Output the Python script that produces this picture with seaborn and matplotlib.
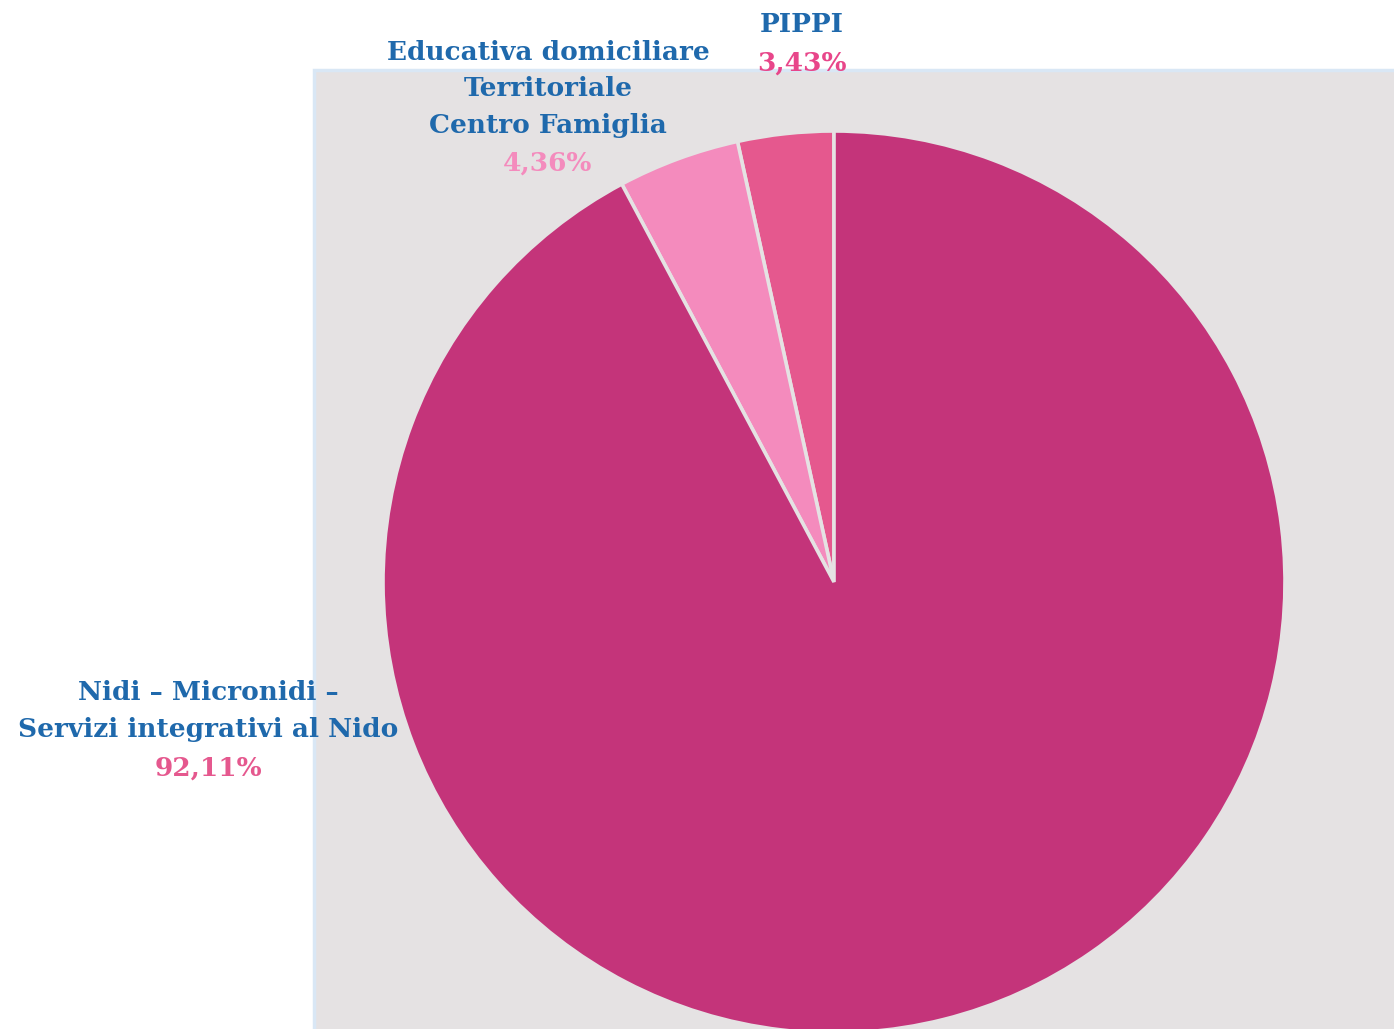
import numpy as np
import pandas as pd
import matplotlib
matplotlib.use("Agg")
import matplotlib.pyplot as plt
import seaborn as sns
from matplotlib.patches import Rectangle

# data, in drawing order (counter-clockwise from 12 o'clock)
labels = ["PIPPI", "Educativa domiciliare\nTerritoriale\nCentro Famiglia",
          "Nidi – Micronidi –\nServizi integrativi al Nido"]
shares = [3.43, 4.36, 92.11]
pct_text = ["3,43%", "4,36%", "92,11%"]
slice_colors = ["#e5588e", "#f48bbd", "#c4347a"]
pct_colors = ["#e8468a", "#f48bbd", "#e5588e"]

sns.set_theme(style="white")
plt.rcParams['font.family'] = ['DejaVu Serif']

fig = plt.figure(figsize=(13.94, 10.29), dpi=100)
ax = fig.add_axes([0, 0, 1, 1])

bg = "#e5e2e3"
# grey panel behind the pie
ax.add_patch(Rectangle((314, -5), 1100, 1029 - 70 + 5, facecolor=bg,
                       edgecolor="#d9e7f5", linewidth=2.5, zorder=0))

ax.pie(shares, colors=slice_colors, startangle=90, counterclock=True,
       radius=451, center=(834, 1029 - 582), frame=True,
       wedgeprops=dict(edgecolor=bg, linewidth=2.6))
ax.set_xlim(0, 1394)
ax.set_ylim(0, 1029)
ax.set_aspect("equal")
ax.axis("off")

blue = "#1f69ac"
fs = 19
# label positions (pixel centres of blocks)
lab_pos = [(802, 25), (548, 52), (208, 693)]
line_h = 36.5
for i in range(3):
    x, y0 = lab_pos[i]
    lines = labels[i].split("\n")
    for j, ln in enumerate(lines):
        ax.text(x, 1029 - (y0 + j * line_h), ln, ha="center", va="center",
                fontsize=fs, fontweight="bold", color=blue)
    ax.text(x, 1029 - (y0 + len(lines) * line_h + 2), pct_text[i], ha="center",
            va="center", fontsize=fs, fontweight="bold", color=pct_colors[i])

fig.savefig("out.png", dpi=100)
